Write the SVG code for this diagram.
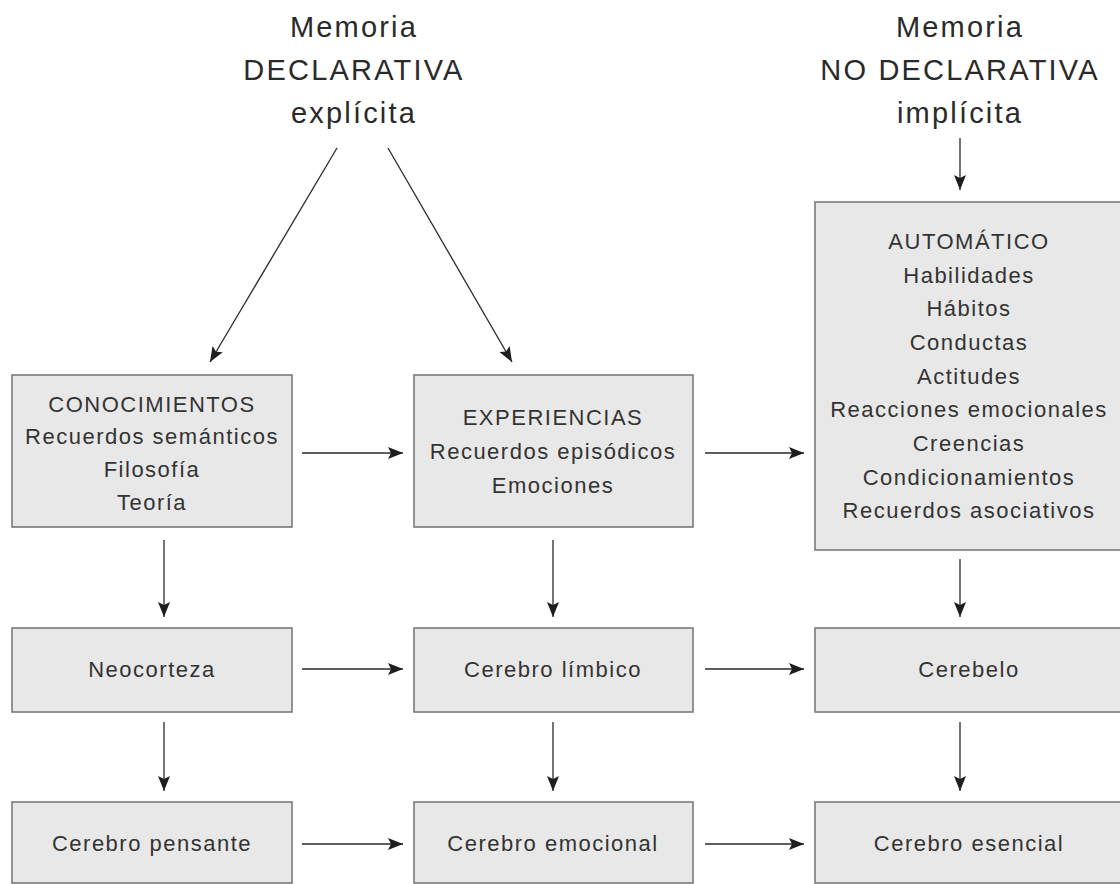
<svg xmlns="http://www.w3.org/2000/svg" width="1120" height="884" viewBox="0 0 1120 884">
<style>
  .box { fill: #e8e8e8; stroke: #7a7a7a; stroke-width: 1.6; }
  .t { font-family: "Liberation Sans", Arial, sans-serif; font-size: 22px; letter-spacing: 1.5px; fill: #333; text-anchor: middle; }
  .h { font-family: "Liberation Sans", Arial, sans-serif; font-size: 29px; letter-spacing: 2.2px; fill: #2a2a2a; text-anchor: middle; }
  .c { stroke: #2a2a2a; stroke-width: 1.3; fill: none; marker-end: url(#ah); }
</style>
<defs>
  <marker id="ah" markerUnits="userSpaceOnUse" markerWidth="16" markerHeight="12" refX="15" refY="6" orient="auto">
    <path d="M0,0 L15,6 L0,12 L3,6 Z" fill="#1e1e1e"/>
  </marker>
</defs>
<rect width="1120" height="884" fill="#ffffff"/>

<g id="title-declarativa">
  <text class="h" x="354" y="37">Memoria</text>
  <text class="h" x="354" y="80">DECLARATIVA</text>
  <text class="h" x="354" y="123">explícita</text>
</g>
<g id="title-no-declarativa">
  <text class="h" x="960" y="37">Memoria</text>
  <text class="h" x="960" y="80">NO DECLARATIVA</text>
  <text class="h" x="960" y="123">implícita</text>
</g>

<g id="conocimientos">
  <rect class="box" x="12" y="375" width="280" height="152"/>
  <text class="t" x="152" y="412">CONOCIMIENTOS</text>
  <text class="t" x="152" y="444">Recuerdos semánticos</text>
  <text class="t" x="152" y="477">Filosofía</text>
  <text class="t" x="152" y="510">Teoría</text>
</g>
<g id="experiencias">
  <rect class="box" x="414" y="375" width="279" height="152"/>
  <text class="t" x="553" y="425">EXPERIENCIAS</text>
  <text class="t" x="553" y="459">Recuerdos episódicos</text>
  <text class="t" x="553" y="493">Emociones</text>
</g>
<g id="automatico">
  <rect class="box" x="815" y="202" width="312" height="348"/>
  <text class="t" x="969" y="249">AUTOMÁTICO</text>
  <text class="t" x="969" y="283">Habilidades</text>
  <text class="t" x="969" y="316">Hábitos</text>
  <text class="t" x="969" y="350">Conductas</text>
  <text class="t" x="969" y="384">Actitudes</text>
  <text class="t" x="969" y="417">Reacciones emocionales</text>
  <text class="t" x="969" y="451">Creencias</text>
  <text class="t" x="969" y="485">Condicionamientos</text>
  <text class="t" x="969" y="518">Recuerdos asociativos</text>
</g>

<g id="neocorteza">
  <rect class="box" x="12" y="628" width="280" height="84"/>
  <text class="t" x="152" y="677">Neocorteza</text>
</g>
<g id="cerebro-limbico">
  <rect class="box" x="414" y="628" width="279" height="84"/>
  <text class="t" x="553" y="677">Cerebro límbico</text>
</g>
<g id="cerebelo">
  <rect class="box" x="815" y="628" width="312" height="84"/>
  <text class="t" x="969" y="677">Cerebelo</text>
</g>

<g id="cerebro-pensante">
  <rect class="box" x="12" y="802" width="280" height="81"/>
  <text class="t" x="152" y="851">Cerebro pensante</text>
</g>
<g id="cerebro-emocional">
  <rect class="box" x="414" y="802" width="279" height="81"/>
  <text class="t" x="553" y="851">Cerebro emocional</text>
</g>
<g id="cerebro-esencial">
  <rect class="box" x="815" y="802" width="312" height="81"/>
  <text class="t" x="969" y="851">Cerebro esencial</text>
</g>

<g id="connectors">
  <line class="c" x1="337" y1="148" x2="210" y2="362"/>
  <line class="c" x1="388" y1="148" x2="512" y2="362"/>
  <line class="c" x1="960" y1="138" x2="960" y2="190"/>

  <line class="c" x1="302" y1="453" x2="403" y2="453"/>
  <line class="c" x1="705" y1="453" x2="804" y2="453"/>

  <line class="c" x1="164" y1="540" x2="164" y2="617"/>
  <line class="c" x1="553" y1="540" x2="553" y2="617"/>
  <line class="c" x1="960" y1="559" x2="960" y2="617"/>

  <line class="c" x1="302" y1="669" x2="403" y2="669"/>
  <line class="c" x1="705" y1="669" x2="804" y2="669"/>

  <line class="c" x1="164" y1="722" x2="164" y2="791"/>
  <line class="c" x1="553" y1="722" x2="553" y2="791"/>
  <line class="c" x1="960" y1="722" x2="960" y2="791"/>

  <line class="c" x1="302" y1="844" x2="403" y2="844"/>
  <line class="c" x1="705" y1="844" x2="804" y2="844"/>
</g>
</svg>
